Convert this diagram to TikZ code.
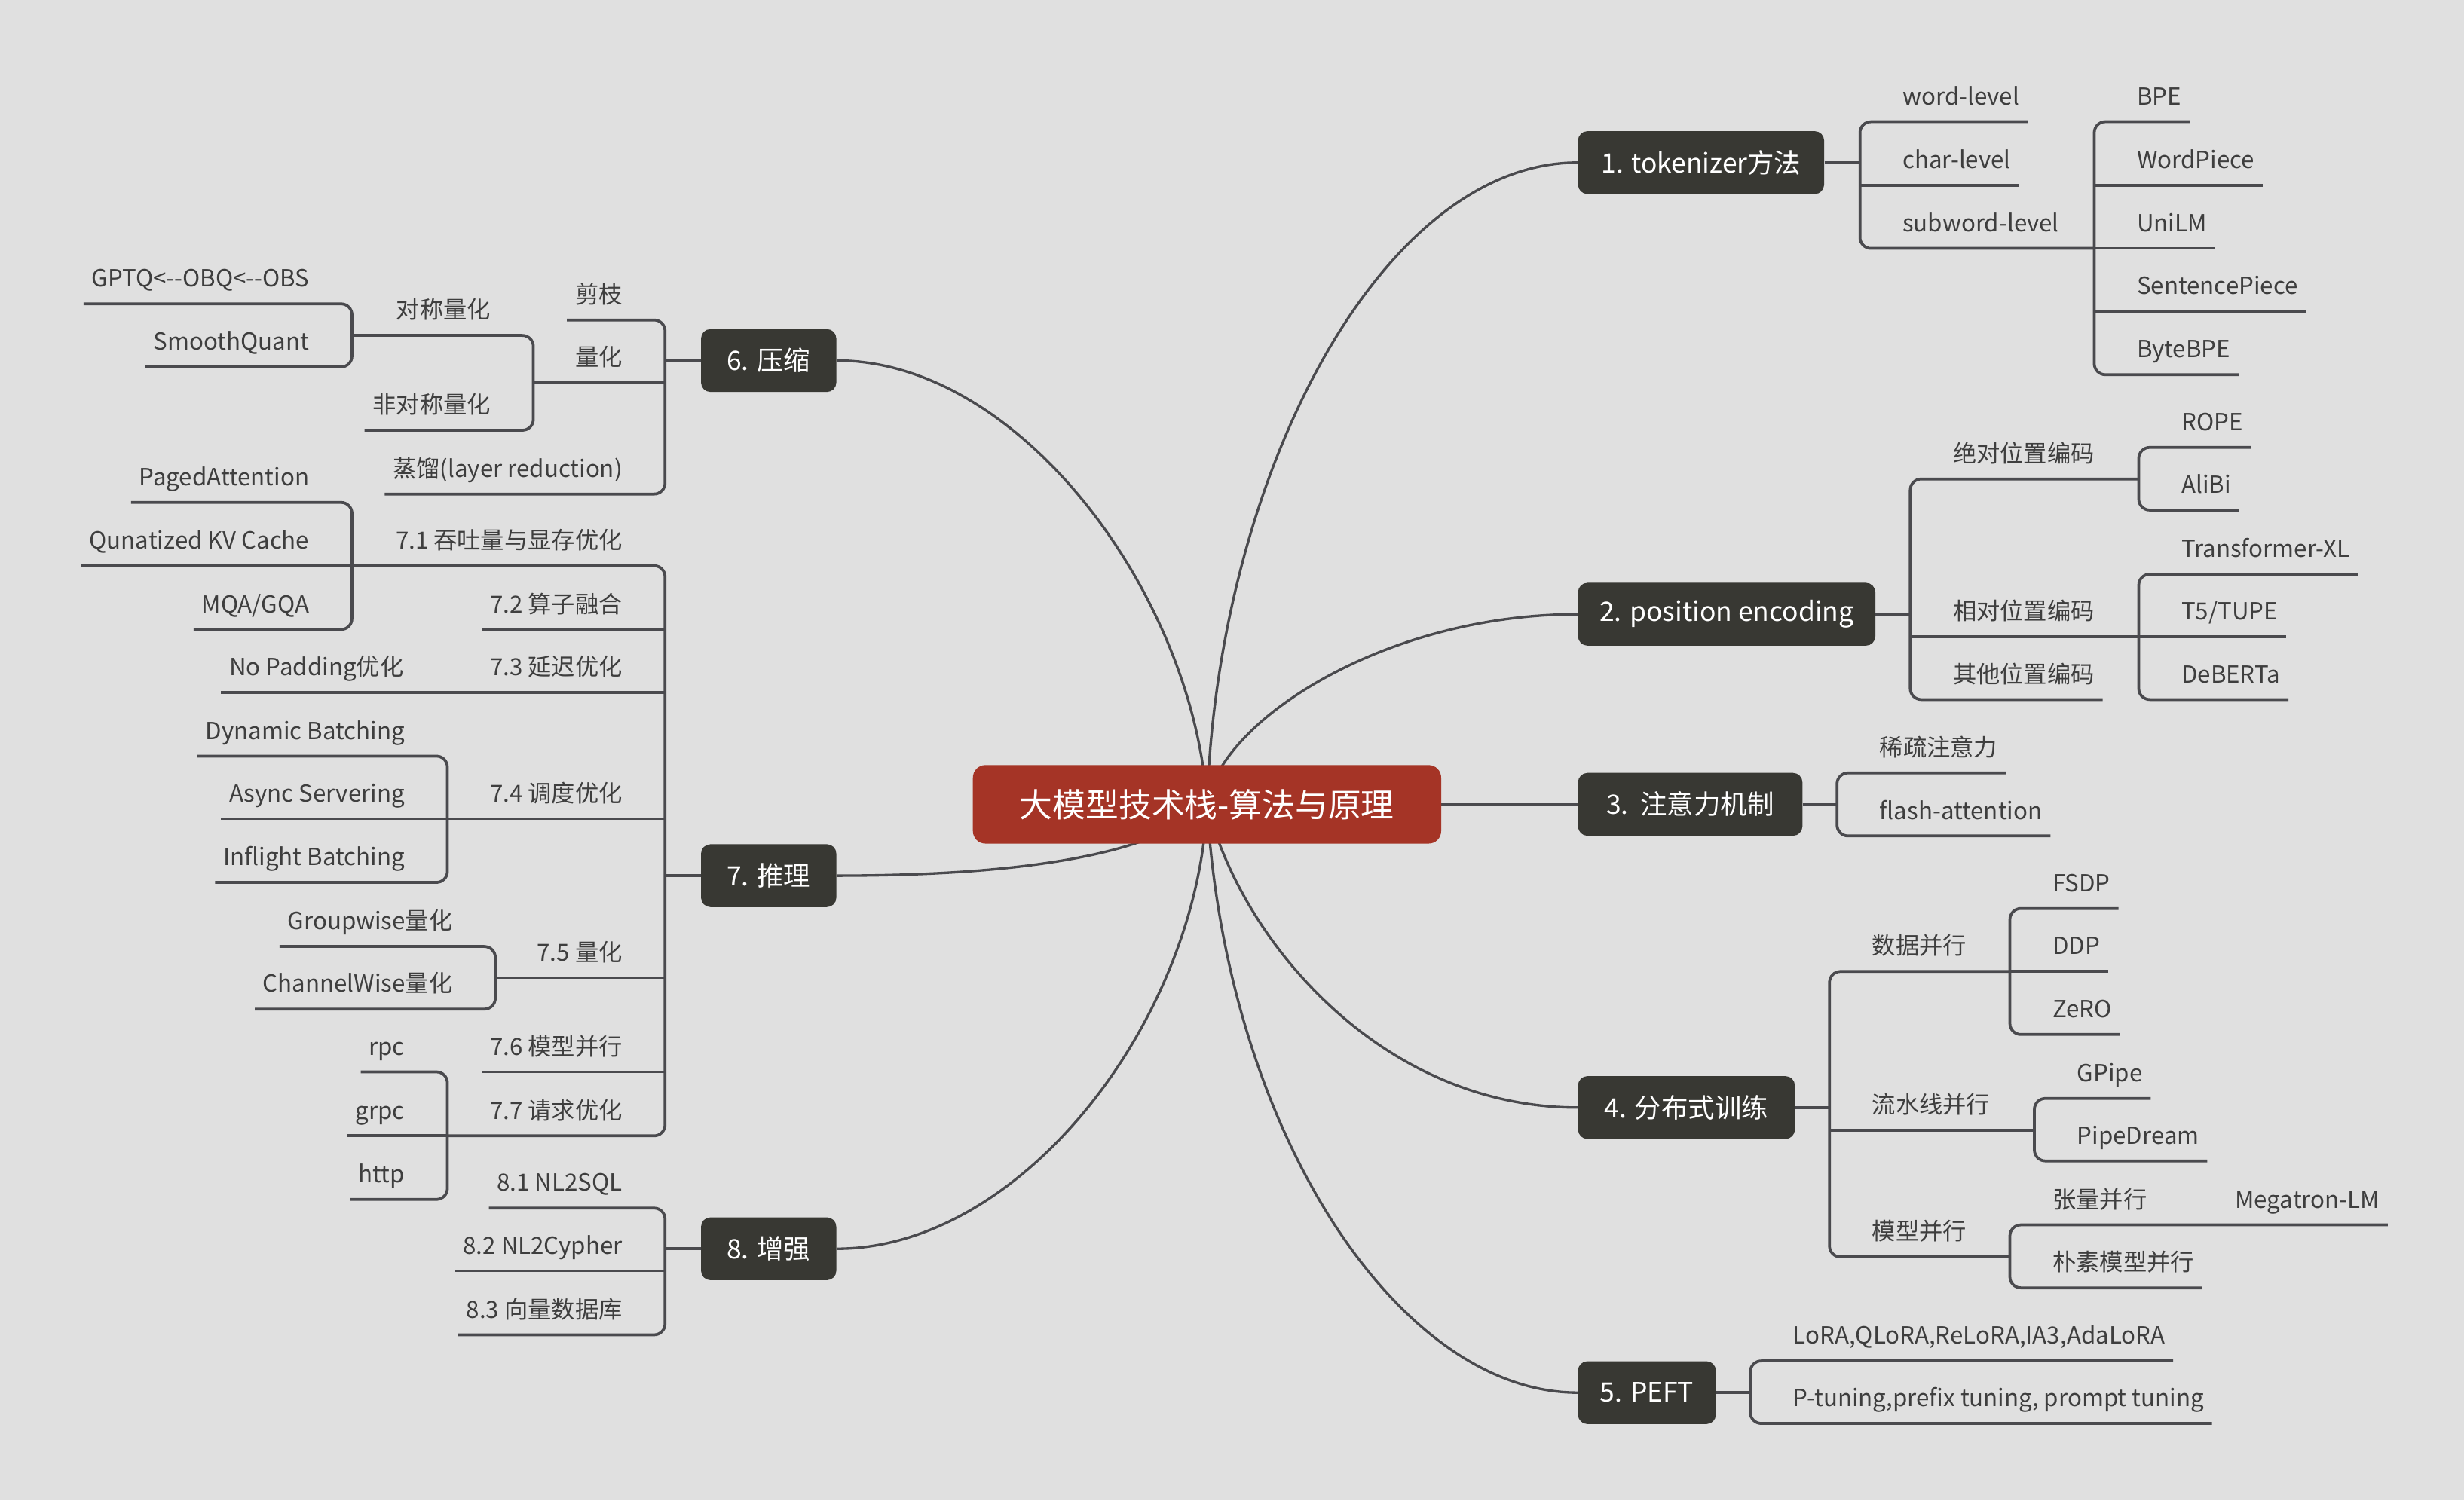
\documentclass[tikz,border=0pt]{standalone}
\usepackage{fontspec}
\setmainfont{Noto Sans CJK SC}
\usetikzlibrary{backgrounds}

\definecolor{bggray}{HTML}{E0E0E0}
\definecolor{linegray}{HTML}{4A4A4E}
\definecolor{textgray}{HTML}{3E3E3E}
\definecolor{topicdark}{HTML}{383833}
\definecolor{rootred}{HTML}{A53426}

\tikzset{
  root/.style={fill=rootred, text=white, rounded corners=8pt, minimum width=298pt, minimum height=50pt, font=\fontsize{21}{21}\selectfont},
  topic/.style={fill=topicdark, text=white, rounded corners=6pt, minimum height=40pt, inner xsep=0pt, font=\fontsize{17}{17}\selectfont},
  leaf/.style={text=textgray, inner xsep=5pt, inner ysep=0pt, text depth=10.5pt, font=\fontsize{15}{15}\selectfont},
  rleaf/.style={leaf, anchor=south west},
  lleaf/.style={leaf, anchor=south east},
  branch/.style={draw=linegray, line width=1.8pt, rounded corners=7pt},
  curve/.style={draw=linegray, line width=1.6pt}
}

\begin{document}
\begin{tikzpicture}[x=1pt, y=-1pt]

\useasboundingbox (0,0) rectangle (1568,955);

\node [root] (root) at (768.1,512) {大模型技术栈-算法与原理};

\node [topic, anchor=west, minimum width=156.6pt] (n1) at (1004,103.5) {1. tokenizer方法};
\node [topic, anchor=west, minimum width=189.2pt] (n2) at (1004,391) {2. position encoding};
\node [topic, anchor=west, minimum width=142.8pt] (n3) at (1004,512) {3.\ \ 注意力机制};
\node [topic, anchor=west, minimum width=138pt] (n4) at (1004,705) {4. 分布式训练};
\node [topic, anchor=west, minimum width=87.7pt] (n5) at (1004,886.5) {5. PEFT};
\node [topic, anchor=east, minimum width=86.1pt] (n6) at (532.4,229.5) {6. 压缩};
\node [topic, anchor=east, minimum width=86.1pt] (n7) at (532.4,557.4) {7. 推理};
\node [topic, anchor=east, minimum width=86.1pt] (n8) at (532.4,794.9) {8. 增强};

\coordinate (s1) at (1183.6,103.5);
\coordinate (s13) at (1332.7,158.1);
\coordinate (s2) at (1215.6,391);
\coordinate (s21) at (1361,304.9);
\coordinate (s22) at (1361,405.4);
\coordinate (s3) at (1169,512);
\coordinate (s4) at (1164.2,705);
\coordinate (s41) at (1279,618.4);
\coordinate (s42) at (1294.6,719.3);
\coordinate (s43) at (1279,800.1);
\coordinate (s5) at (1113.8,886.5);
\coordinate (s6) at (423.2,229.5);
\coordinate (s62) at (339.4,243.6);
\coordinate (s621) at (224,213.5);
\coordinate (s7) at (423.2,557.4);
\coordinate (s71) at (224,360.1);
\coordinate (s74) at (284.7,521.2);
\coordinate (s75) at (315.2,622.3);
\coordinate (s77) at (284.7,723);
\coordinate (s8) at (423.2,794.9);

\node [rleaf] (t11) at (1205.6,77.5) {word-level};
\node [rleaf] (t12) at (1205.6,117.9) {char-level};
\node [rleaf] (t13) at (1205.6,158.1) {subword-level};
\node [rleaf] (t131) at (1354.7,77.5) {BPE};
\node [rleaf] (t132) at (1354.7,117.9) {WordPiece};
\node [rleaf] (t133) at (1354.7,158.1) {UniLM};
\node [rleaf] (t134) at (1354.7,198) {SentencePiece};
\node [rleaf] (t135) at (1354.7,238.5) {ByteBPE};

\node [rleaf] (t21) at (1237.6,304.9) {绝对位置编码};
\node [rleaf] (t22) at (1237.6,405.4) {相对位置编码};
\node [rleaf] (t23) at (1237.6,445.3) {其他位置编码};
\node [rleaf] (t211) at (1383,284.8) {ROPE};
\node [rleaf] (t212) at (1383,324.7) {AliBi};
\node [rleaf] (t221) at (1383,365.5) {Transformer-XL};
\node [rleaf] (t222) at (1383,405.4) {T5/TUPE};
\node [rleaf] (t223) at (1383,445.3) {DeBERTa};

\node [rleaf] (t31) at (1191,492) {稀疏注意力};
\node [rleaf] (t32) at (1191,532.1) {flash-attention};

\node [rleaf] (t41) at (1186.2,618.4) {数据并行};
\node [rleaf] (t42) at (1186.2,719.3) {流水线并行};
\node [rleaf] (t43) at (1186.2,800.1) {模型并行};
\node [rleaf] (t411) at (1301,578.3) {FSDP};
\node [rleaf] (t412) at (1301,618.4) {DDP};
\node [rleaf] (t413) at (1301,658.5) {ZeRO};
\node [rleaf] (t421) at (1316.6,699.2) {GPipe};
\node [rleaf] (t422) at (1316.6,739) {PipeDream};
\node [rleaf] (t431) at (1301,779.7) {张量并行};
\node [rleaf] (t432) at (1301,819.8) {朴素模型并行};
\node [rleaf] (t4311) at (1417.2,779.7) {Megatron-LM};

\node [rleaf] (t51) at (1135.8,866.3) {LoRA,QLoRA,ReLoRA,IA3,AdaLoRA};
\node [rleaf] (t52) at (1135.8,906.1) {P-tuning,prefix tuning, prompt tuning};

\node [lleaf] (t61) at (401.2,203.7) {剪枝};
\node [lleaf] (t62) at (401.2,243.6) {量化};
\node [lleaf] (t63) at (401.2,314.5) {蒸馏(layer reduction)};
\node [lleaf] (t621) at (317.4,213.5) {对称量化};
\node [lleaf] (t622) at (317.4,273.9) {非对称量化};
\node [lleaf] (t6211) at (202,193.4) {GPTQ<{-}{-}OBQ<{-}{-}OBS};
\node [lleaf] (t6212) at (202,233.6) {SmoothQuant};

\node [lleaf] (t71) at (401.2,360.1) {7.1 吞吐量与显存优化};
\node [lleaf] (t72) at (401.2,400.7) {7.2 算子融合};
\node [lleaf] (t73) at (401.2,440.8) {7.3 延迟优化};
\node [lleaf] (t74) at (401.2,521.2) {7.4 调度优化};
\node [lleaf] (t75) at (401.2,622.3) {7.5 量化};
\node [lleaf] (t76) at (401.2,682.3) {7.6 模型并行};
\node [lleaf] (t77) at (401.2,723) {7.7 请求优化};
\node [lleaf] (t711) at (202,319.8) {PagedAttention};
\node [lleaf] (t712) at (202,360.1) {Qunatized KV Cache};
\node [lleaf] (t713) at (202,400.7) {MQA/GQA};
\node [lleaf] (t731) at (262,440.8) {No Padding优化};
\node [lleaf] (t741) at (262.7,481.3) {Dynamic Batching};
\node [lleaf] (t742) at (262.7,521.2) {Async Servering};
\node [lleaf] (t743) at (262.7,561.7) {Inflight Batching};
\node [lleaf] (t751) at (293.2,602.5) {Groupwise量化};
\node [lleaf] (t752) at (293.2,642.4) {ChannelWise量化};
\node [lleaf] (t771) at (262.7,682.3) {rpc};
\node [lleaf] (t772) at (262.7,723) {grpc};
\node [lleaf] (t773) at (262.7,763.5) {http};

\node [lleaf] (t81) at (401.2,769) {8.1 NL2SQL};
\node [lleaf] (t82) at (401.2,808.9) {8.2 NL2Cypher};
\node [lleaf] (t83) at (401.2,849.7) {8.3 向量数据库};

\draw [branch] (n1.east) -- (s1);
\draw [branch] (t11.south east) -- (s1 |- t11.south) -- (s1 |- t13.south) -- (s13);
\draw [branch] (s1 |- t12.south) -- (t12.south east);
\draw [branch] (t131.south east) -- (s13 |- t131.south) -- (s13 |- t135.south) -- (t135.south east);
\draw [branch] (s13 |- t132.south) -- (t132.south east);
\draw [branch] (s13) -- (t133.south east);
\draw [branch] (s13 |- t134.south) -- (t134.south east);

\draw [branch] (n2.east) -- (s2);
\draw [branch] (s21) -- (s2 |- t21.south) -- (s2 |- t23.south) -- (t23.south east);
\draw [branch] (s2 |- t22.south) -- (s22);
\draw [branch] (t211.south east) -- (s21 |- t211.south) -- (s21 |- t212.south) -- (t212.south east);
\draw [branch] (t221.south east) -- (s22 |- t221.south) -- (s22 |- t223.south) -- (t223.south east);
\draw [branch] (s22) -- (t222.south east);

\draw [branch] (n3.east) -- (s3);
\draw [branch] (t31.south east) -- (s3 |- t31.south) -- (s3 |- t32.south) -- (t32.south east);

\draw [branch] (n4.east) -- (s4);
\draw [branch] (s41) -- (s4 |- t41.south) -- (s4 |- t43.south) -- (s43);
\draw [branch] (s4 |- t42.south) -- (s42);
\draw [branch] (t411.south east) -- (s41 |- t411.south) -- (s41 |- t413.south) -- (t413.south east);
\draw [branch] (s41) -- (t412.south east);
\draw [branch] (t421.south east) -- (s42 |- t421.south) -- (s42 |- t422.south) -- (t422.south east);
\draw [branch] (t4311.south east) -- (s43 |- t431.south) -- (s43 |- t432.south) -- (t432.south east);

\draw [branch] (n5.east) -- (s5);
\draw [branch] (t51.south east) -- (s5 |- t51.south) -- (s5 |- t52.south) -- (t52.south east);

\draw [branch] (n6.west) -- (s6);
\draw [branch] (t61.south west) -- (s6 |- t61.south) -- (s6 |- t63.south) -- (t63.south west);
\draw [branch] (s6 |- t62.south) -- (s62);
\draw [branch] (s621) -- (s62 |- t621.south) -- (s62 |- t622.south) -- (t622.south west);
\draw [branch] (t6211.south west) -- (s621 |- t6211.south) -- (s621 |- t6212.south) -- (t6212.south west);

\draw [branch] (n7.west) -- (s7);
\draw [branch] (s71) -- (s7 |- t71.south) -- (s7 |- t77.south) -- (s77);
\draw [branch] (s7 |- t72.south) -- (t72.south west);
\draw [branch] (s7 |- t73.south) -- (t731.south west);
\draw [branch] (s7 |- t74.south) -- (s74);
\draw [branch] (s7 |- t75.south) -- (s75);
\draw [branch] (s7 |- t76.south) -- (t76.south west);
\draw [branch] (t711.south west) -- (s71 |- t711.south) -- (s71 |- t713.south) -- (t713.south west);
\draw [branch] (s71) -- (t712.south west);
\draw [branch] (t741.south west) -- (s74 |- t741.south) -- (s74 |- t743.south) -- (t743.south west);
\draw [branch] (s74) -- (t742.south west);
\draw [branch] (t751.south west) -- (s75 |- t751.south) -- (s75 |- t752.south) -- (t752.south west);
\draw [branch] (t771.south west) -- (s77 |- t771.south) -- (s77 |- t773.south) -- (t773.south west);
\draw [branch] (s77) -- (t772.south west);

\draw [branch] (n8.west) -- (s8);
\draw [branch] (t81.south west) -- (s8 |- t81.south) -- (s8 |- t83.south) -- (t83.south west);
\draw [branch] (s8 |- t82.south) -- (t82.south west);

\begin{scope}[on background layer]
\fill [bggray] (0,0) rectangle (1568,955);
\draw [curve] (root.center) .. controls (775,300) and (880,103.5) .. (n1.west);
\draw [curve] (root.center) .. controls (775,460) and (880,391) .. (n2.west);
\draw [curve] (root.center) -- (n3.west);
\draw [curve] (root.center) .. controls (790,600) and (880,705) .. (n4.west);
\draw [curve] (root.center) .. controls (780,720) and (890,886.5) .. (n5.west);
\draw [curve] (root.center) .. controls (760,380) and (650,229.5) .. (n6.east);
\draw [curve] (root.center) .. controls (730,550) and (620,557.4) .. (n7.east);
\draw [curve] (root.center) .. controls (762,650) and (650,794.9) .. (n8.east);
\end{scope}

\end{tikzpicture}
\end{document}
